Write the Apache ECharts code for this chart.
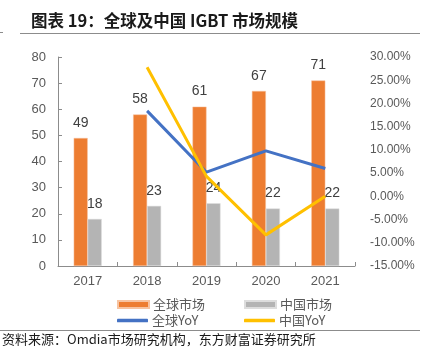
<!DOCTYPE html>
<html>
<head>
<meta charset="utf-8">
<script src="https://cdn.jsdelivr.net/npm/echarts@6/dist/echarts.min.js"></script>
<style>html,body{margin:0;padding:0;background:#fff;}#c{width:424px;height:359px;}</style>
</head>
<body>
<div id="c"></div>
<script>
const categories = ['2017', '2018', '2019', '2020', '2021'];
const globalMarket = [49, 58, 61, 67, 71];
const chinaMarket = [18, 23, 24, 22, 22];
const globalYoY = [null, 18.4, 5.2, 9.8, 6.0];
const chinaYoY = [null, 27.8, 4.3, -8.3, 0.0];
const leftTicks = {min: 0, max: 80, interval: 10};
const rightTicks = {min: -15, max: 30, interval: 5};

const numFont = '"Liberation Sans", Arial, sans-serif';
const cjkFont = '"Noto Sans CJK SC", sans-serif';
function lg(name, left, top, isLine) {
  return {
    data: [name], left: left, top: top, itemWidth: 31, itemHeight: isLine ? 3.5 : 7,
    icon: isLine ? 'roundRect' : 'rect',
    textStyle: {fontFamily: cjkFont, fontSize: 13, color: '#595959', padding: [0, 0, 0, -1]}
  };
}
const chart = echarts.init(document.getElementById('c'), null, {renderer: 'canvas'});
chart.setOption({
  animation: false,
  backgroundColor: '#fff',
  grid: {left: 58, right: 69, top: 57, bottom: 93},
  graphic: [
    {type: 'text', left: 31, top: 12, style: {text: '图表 19：全球及中国 IGBT 市场规模', font: 'bold 16.5px "Noto Sans CJK SC", sans-serif', fill: '#1a1a1a'}},
    {type: 'line', shape: {x1: 20, y1: 33.5, x2: 420, y2: 33.5}, style: {stroke: '#8c8c8c', lineWidth: 1.2}},
    {type: 'line', shape: {x1: 0, y1: 32.5, x2: 3, y2: 32.5}, style: {stroke: '#8c8c8c', lineWidth: 1}},
    {type: 'line', shape: {x1: 0, y1: 330.5, x2: 420, y2: 330.5}, style: {stroke: '#8c8c8c', lineWidth: 1}},
    {type: 'text', left: 2, top: 333, style: {text: '资料来源：Omdia市场研究机构，东方财富证券研究所', font: '13px "Noto Sans CJK SC", sans-serif', fill: '#1a1a1a'}}
  ],
  legend: [
    lg('全球市场', 112, 293, false),
    lg('中国市场', 239, 293, false),
    lg('全球YoY', 112, 309, true),
    lg('中国YoY', 239, 309, true)
  ],
  xAxis: {
    type: 'category', data: categories,
    axisLine: {lineStyle: {color: '#8c8c8c', width: 1}},
    axisTick: {show: true, inside: true, length: 4, alignWithLabel: false, lineStyle: {color: '#8c8c8c'}},
    axisLabel: {fontFamily: numFont, fontSize: 13, color: '#595959', margin: 9}
  },
  yAxis: [
    {type: 'value', min: leftTicks.min, max: leftTicks.max, interval: leftTicks.interval,
     axisLine: {show: true, lineStyle: {color: '#8c8c8c'}},
     axisTick: {show: true, inside: true, length: 4, lineStyle: {color: '#8c8c8c'}},
     splitLine: {show: false},
     axisLabel: {fontFamily: numFont, fontSize: 13, color: '#595959', margin: 12}},
    {type: 'value', min: rightTicks.min, max: rightTicks.max, interval: rightTicks.interval,
     axisLine: {show: false}, axisTick: {show: false}, splitLine: {show: false},
     axisLabel: {fontFamily: numFont, fontSize: 12, color: '#595959', margin: 15,
       formatter: v => v.toFixed(2) + '%'}}
  ],
  series: [
    {name: '全球市场', type: 'bar', data: globalMarket, barWidth: 14, barGap: '0%',
     itemStyle: {color: '#ED7D31', borderColor: '#f7c3a0', borderWidth: 0.5},
     label: {show: true, position: 'top', distance: 8, fontFamily: numFont, fontSize: 14, color: '#404040'}},
    {name: '中国市场', type: 'bar', data: chinaMarket, barWidth: 14, barGap: '0%',
     itemStyle: {color: '#B4B4B4', borderColor: '#dddddd', borderWidth: 0.5},
     label: {show: true, position: 'top', distance: 8, fontFamily: numFont, fontSize: 14, color: '#404040'}},
    {name: '全球YoY', type: 'line', yAxisIndex: 1, data: globalYoY, symbol: 'none',
     lineStyle: {color: '#4472C4', width: 3}, itemStyle: {color: '#4472C4'}},
    {name: '中国YoY', type: 'line', yAxisIndex: 1, data: chinaYoY, symbol: 'none',
     lineStyle: {color: '#FFC000', width: 3}, itemStyle: {color: '#FFC000'}}
  ]
});
</script>
</body>
</html>
